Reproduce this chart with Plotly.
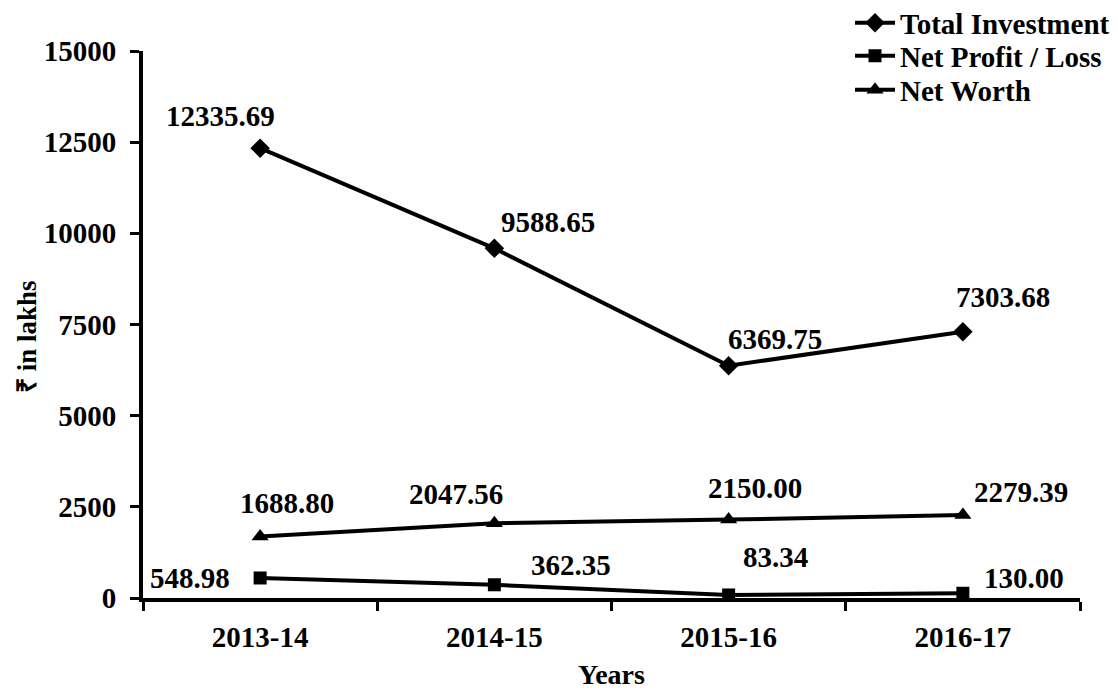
import plotly.graph_objects as go

years = ["2013-14", "2014-15", "2015-16", "2016-17"]
total_investment = [12335.69, 9588.65, 6369.75, 7303.68]
net_profit = [548.98, 362.35, 83.34, 130.00]
net_worth = [1688.80, 2047.56, 2150.00, 2279.39]
y_ticks = [0, 2500, 5000, 7500, 10000, 12500, 15000]
y_tick_labels = ["0", "2500", "5000", "7500", "10000", "12500", "15000"]
y_title = "₹ in lakhs"
x_title = "Years"

FONT = "Liberation Serif, Times New Roman, serif"
W, H = 1118, 697
L, R, T, B = 135, 46, 43, 107

# label offsets (pixels) for each series, styling only
ti_off = [(-40, 32), (54, 26), (46, 27), (40, 35)]
np_off = [(-70, 0), (77, 20), (47, 38), (61, 15)]
nw_off = [(27, 33), (-38, 29), (26, 32), (58, 23)]

fig = go.Figure()
series = [
    ("Total Investment", total_investment, "diamond", 15, ti_off, "legend"),
    ("Net Profit / Loss", net_profit, "square", 13, np_off, "legend2"),
    ("Net Worth", net_worth, "triangle-up", 15, nw_off, "legend3"),
]
for name, vals, sym, sz, offs, lg in series:
    fig.add_trace(go.Scatter(
        x=years, y=vals, name=name, mode="lines+markers",
        line=dict(color="black", width=4),
        marker=dict(symbol=sym, size=sz, color="black"),
        legend=lg,
    ))
    for xv, yv, (dx, dy) in zip(years, vals, offs):
        fig.add_annotation(
            x=xv, y=yv, text=f"{yv:.2f}", showarrow=False,
            xshift=dx, yshift=dy,
            font=dict(family=FONT, size=29, color="black", weight="bold"),
        )

# y-axis title as rotated annotation
plot_w = W - L - R
plot_h = H - T - B
fig.add_annotation(
    text=y_title, textangle=-90, showarrow=False,
    xref="paper", yref="paper",
    x=(19 - L) / plot_w, y=(H - B - 329) / plot_h,
    xanchor="center", yanchor="middle",
    font=dict(family=FONT, size=27, color="black", weight="bold"),
)

def legend_at(cy):
    return dict(
        x=842 / W, xref="container", xanchor="left",
        y=1 - cy / H, yref="container", yanchor="middle",
        bgcolor="rgba(0,0,0,0)",
        font=dict(family=FONT, size=29, color="black", weight="bold"),
        itemwidth=40,
    )

fig.update_layout(
    width=W, height=H,
    paper_bgcolor="white", plot_bgcolor="white",
    margin=dict(l=L, r=R, t=T, b=B, autoexpand=False),
    font=dict(family=FONT, size=28, color="black", weight="bold"),
    legend=legend_at(15),
    legend2=legend_at(48),
    legend3=legend_at(82),
    showlegend=True,
)
fig.update_xaxes(
    type="category", range=[-0.5, 3.5],
    showline=True, linecolor="black", linewidth=4,
    ticks="outside", tickson="boundaries", ticklen=9, tickwidth=3, tickcolor="black",
    showgrid=False, zeroline=False,
    tickfont=dict(family=FONT, size=29, color="black", weight="bold"),
    ticklabelstandoff=10,
    title=dict(text=x_title, font=dict(family=FONT, size=28, color="black", weight="bold"),
               standoff=14),
)
fig.update_yaxes(
    range=[0, 15000], tickvals=y_ticks, ticktext=y_tick_labels,
    showline=True, linecolor="black", linewidth=4,
    ticks="outside", ticklen=9, tickwidth=3, tickcolor="black",
    showgrid=False, zeroline=False,
    tickfont=dict(family=FONT, size=29, color="black", weight="bold"),
    ticklabelstandoff=8,
)

fig.write_html("out.html")
